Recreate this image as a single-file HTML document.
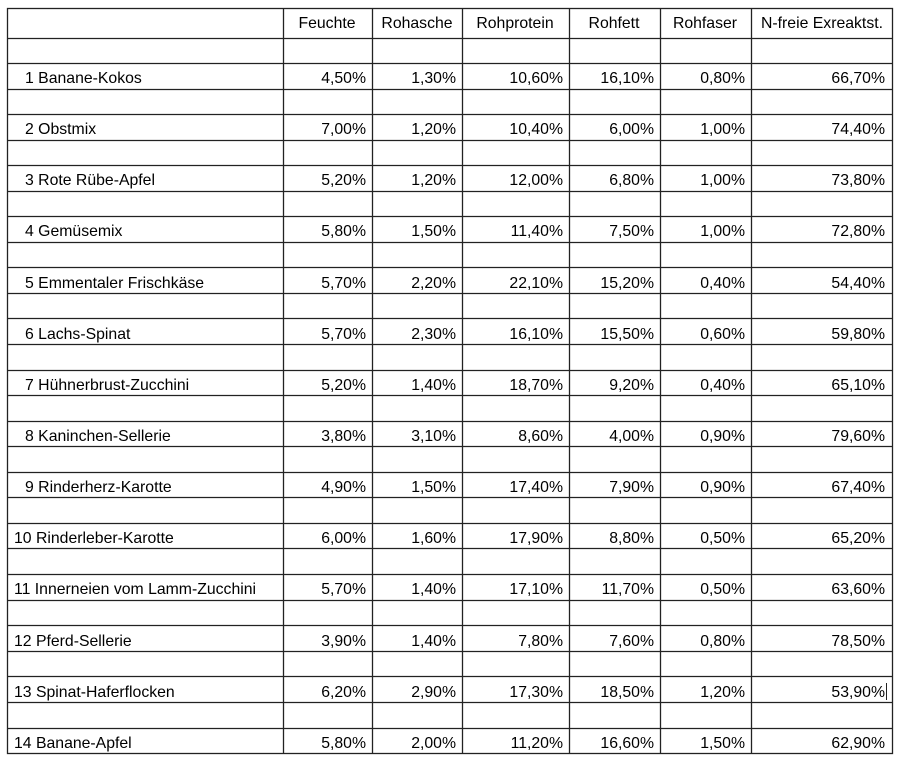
<!DOCTYPE html>
<html><head><meta charset="utf-8"><style>
html,body{margin:0;padding:0;background:#fff;}
svg{display:block;}
text{font-family:"Liberation Sans",Arial,sans-serif;font-size:15.8px;fill:#000;}
.r{text-anchor:end;}
.c{text-anchor:middle;}
</style></head><body>
<svg width="900" height="761" viewBox="0 0 900 761">
<g stroke="#222" stroke-width="1.3" fill="none">
<rect x="7.5" y="8.5" width="885" height="745"/>
<line x1="283.5" y1="8" x2="283.5" y2="754"/>
<line x1="372.5" y1="8" x2="372.5" y2="754"/>
<line x1="462.5" y1="8" x2="462.5" y2="754"/>
<line x1="569.5" y1="8" x2="569.5" y2="754"/>
<line x1="660.5" y1="8" x2="660.5" y2="754"/>
<line x1="751.5" y1="8" x2="751.5" y2="754"/>
<line x1="7" y1="38.5" x2="893" y2="38.5"/>
<line x1="7" y1="63.5" x2="893" y2="63.5"/><line x1="7" y1="89.5" x2="893" y2="89.5"/>
<line x1="7" y1="114.5" x2="893" y2="114.5"/><line x1="7" y1="140.5" x2="893" y2="140.5"/>
<line x1="7" y1="165.5" x2="893" y2="165.5"/><line x1="7" y1="191.5" x2="893" y2="191.5"/>
<line x1="7" y1="216.5" x2="893" y2="216.5"/><line x1="7" y1="242.5" x2="893" y2="242.5"/>
<line x1="7" y1="267.5" x2="893" y2="267.5"/><line x1="7" y1="293.5" x2="893" y2="293.5"/>
<line x1="7" y1="318.5" x2="893" y2="318.5"/><line x1="7" y1="344.5" x2="893" y2="344.5"/>
<line x1="7" y1="370.5" x2="893" y2="370.5"/><line x1="7" y1="395.5" x2="893" y2="395.5"/>
<line x1="7" y1="421.5" x2="893" y2="421.5"/><line x1="7" y1="446.5" x2="893" y2="446.5"/>
<line x1="7" y1="472.5" x2="893" y2="472.5"/><line x1="7" y1="497.5" x2="893" y2="497.5"/>
<line x1="7" y1="523.5" x2="893" y2="523.5"/><line x1="7" y1="548.5" x2="893" y2="548.5"/>
<line x1="7" y1="574.5" x2="893" y2="574.5"/><line x1="7" y1="600.5" x2="893" y2="600.5"/>
<line x1="7" y1="625.5" x2="893" y2="625.5"/><line x1="7" y1="651.5" x2="893" y2="651.5"/>
<line x1="7" y1="676.5" x2="893" y2="676.5"/><line x1="7" y1="702.5" x2="893" y2="702.5"/>
<line x1="7" y1="728.5" x2="893" y2="728.5"/>
<line x1="886.5" y1="683" x2="886.5" y2="700" stroke-width="1"/>
</g>
<text class="c" x="327" y="28">Feuchte</text>
<text class="c" x="417" y="28">Rohasche</text>
<text class="c" x="515" y="28">Rohprotein</text>
<text class="c" x="614" y="28">Rohfett</text>
<text class="c" x="705" y="28">Rohfaser</text>
<text class="c" x="822" y="28">N-freie Exreaktst.</text>

<g>
<text x="25" y="83">1 Banane-Kokos</text>
<text x="25" y="134">2 Obstmix</text>
<text x="25" y="185">3 Rote Rübe-Apfel</text>
<text x="25" y="236">4 Gemüsemix</text>
<text x="25" y="288">5 Emmentaler Frischkäse</text>
<text x="25" y="339">6 Lachs-Spinat</text>
<text x="25" y="390">7 Hühnerbrust-Zucchini</text>
<text x="25" y="441">8 Kaninchen-Sellerie</text>
<text x="25" y="492">9 Rinderherz-Karotte</text>
<text x="14" y="543">10 Rinderleber-Karotte</text>
<text x="14" y="594">11 Innerneien vom Lamm-Zucchini</text>
<text x="14" y="646">12 Pferd-Sellerie</text>
<text x="14" y="697">13 Spinat-Haferflocken</text>
<text x="14" y="748">14 Banane-Apfel</text>
</g>
<g>
<text class="r" x="366" y="83">4,50%</text><text class="r" x="456" y="83">1,30%</text><text class="r" x="563" y="83">10,60%</text><text class="r" x="654" y="83">16,10%</text><text class="r" x="745" y="83">0,80%</text><text class="r" x="885" y="83">66,70%</text>
<text class="r" x="366" y="134">7,00%</text><text class="r" x="456" y="134">1,20%</text><text class="r" x="563" y="134">10,40%</text><text class="r" x="654" y="134">6,00%</text><text class="r" x="745" y="134">1,00%</text><text class="r" x="885" y="134">74,40%</text>
<text class="r" x="366" y="185">5,20%</text><text class="r" x="456" y="185">1,20%</text><text class="r" x="563" y="185">12,00%</text><text class="r" x="654" y="185">6,80%</text><text class="r" x="745" y="185">1,00%</text><text class="r" x="885" y="185">73,80%</text>
<text class="r" x="366" y="236">5,80%</text><text class="r" x="456" y="236">1,50%</text><text class="r" x="563" y="236">11,40%</text><text class="r" x="654" y="236">7,50%</text><text class="r" x="745" y="236">1,00%</text><text class="r" x="885" y="236">72,80%</text>
<text class="r" x="366" y="288">5,70%</text><text class="r" x="456" y="288">2,20%</text><text class="r" x="563" y="288">22,10%</text><text class="r" x="654" y="288">15,20%</text><text class="r" x="745" y="288">0,40%</text><text class="r" x="885" y="288">54,40%</text>
<text class="r" x="366" y="339">5,70%</text><text class="r" x="456" y="339">2,30%</text><text class="r" x="563" y="339">16,10%</text><text class="r" x="654" y="339">15,50%</text><text class="r" x="745" y="339">0,60%</text><text class="r" x="885" y="339">59,80%</text>
<text class="r" x="366" y="390">5,20%</text><text class="r" x="456" y="390">1,40%</text><text class="r" x="563" y="390">18,70%</text><text class="r" x="654" y="390">9,20%</text><text class="r" x="745" y="390">0,40%</text><text class="r" x="885" y="390">65,10%</text>
<text class="r" x="366" y="441">3,80%</text><text class="r" x="456" y="441">3,10%</text><text class="r" x="563" y="441">8,60%</text><text class="r" x="654" y="441">4,00%</text><text class="r" x="745" y="441">0,90%</text><text class="r" x="885" y="441">79,60%</text>
<text class="r" x="366" y="492">4,90%</text><text class="r" x="456" y="492">1,50%</text><text class="r" x="563" y="492">17,40%</text><text class="r" x="654" y="492">7,90%</text><text class="r" x="745" y="492">0,90%</text><text class="r" x="885" y="492">67,40%</text>
<text class="r" x="366" y="543">6,00%</text><text class="r" x="456" y="543">1,60%</text><text class="r" x="563" y="543">17,90%</text><text class="r" x="654" y="543">8,80%</text><text class="r" x="745" y="543">0,50%</text><text class="r" x="885" y="543">65,20%</text>
<text class="r" x="366" y="594">5,70%</text><text class="r" x="456" y="594">1,40%</text><text class="r" x="563" y="594">17,10%</text><text class="r" x="654" y="594">11,70%</text><text class="r" x="745" y="594">0,50%</text><text class="r" x="885" y="594">63,60%</text>
<text class="r" x="366" y="646">3,90%</text><text class="r" x="456" y="646">1,40%</text><text class="r" x="563" y="646">7,80%</text><text class="r" x="654" y="646">7,60%</text><text class="r" x="745" y="646">0,80%</text><text class="r" x="885" y="646">78,50%</text>
<text class="r" x="366" y="697">6,20%</text><text class="r" x="456" y="697">2,90%</text><text class="r" x="563" y="697">17,30%</text><text class="r" x="654" y="697">18,50%</text><text class="r" x="745" y="697">1,20%</text><text class="r" x="885" y="697">53,90%</text>
<text class="r" x="366" y="748">5,80%</text><text class="r" x="456" y="748">2,00%</text><text class="r" x="563" y="748">11,20%</text><text class="r" x="654" y="748">16,60%</text><text class="r" x="745" y="748">1,50%</text><text class="r" x="885" y="748">62,90%</text>
</g>
</svg>
</body></html>
